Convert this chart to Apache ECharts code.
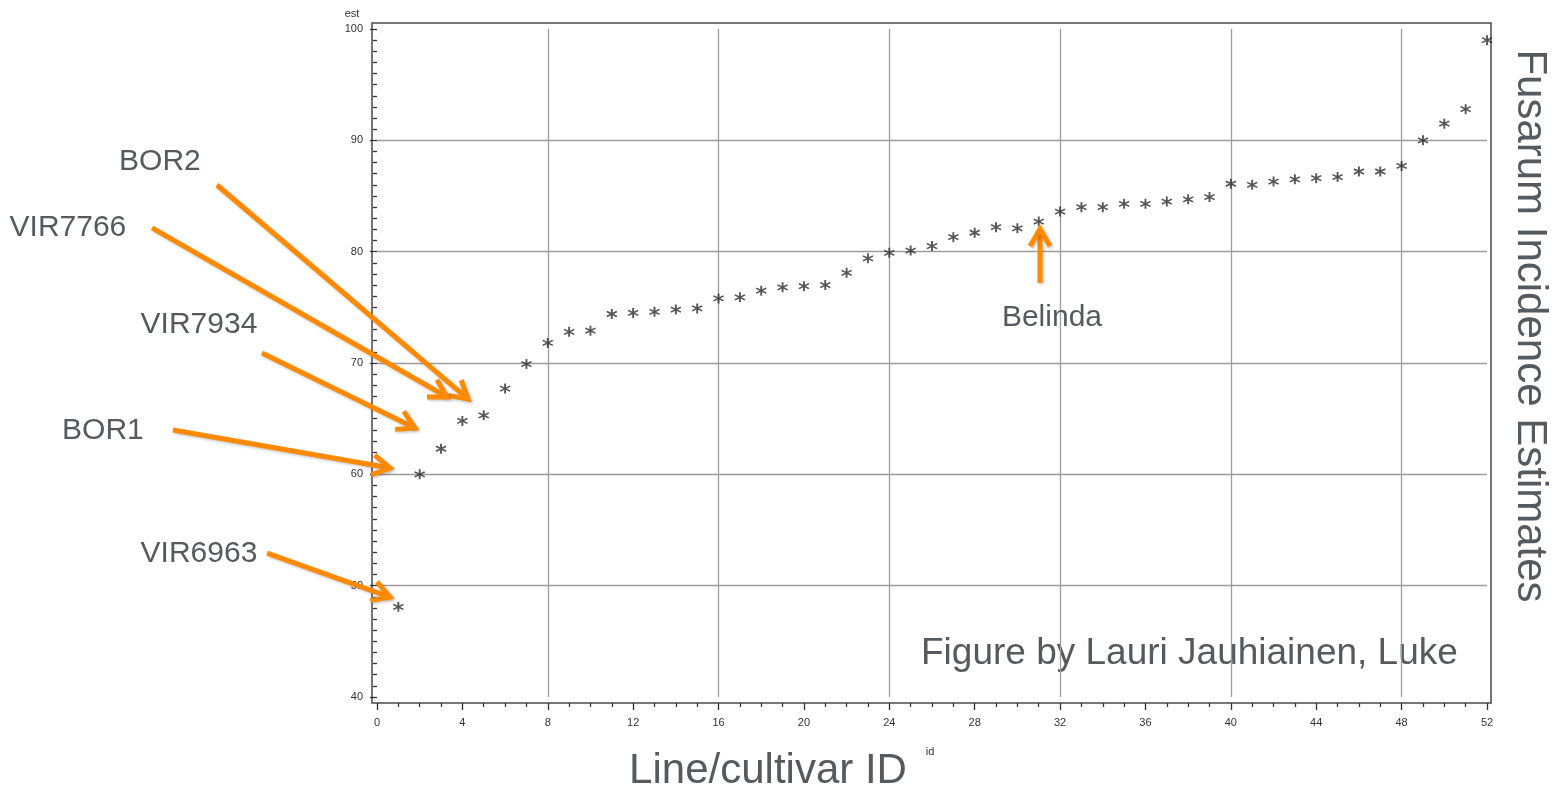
<!DOCTYPE html>
<html>
<head>
<meta charset="utf-8">
<title>Fusarum Incidence Estimates</title>
<script src="https://cdn.jsdelivr.net/npm/echarts@6.0.0/dist/echarts.min.js"></script>
<style>
  html, body { margin: 0; padding: 0; background: #fff; }
  #chart { width: 1552px; height: 791px; }
</style>
</head>
<body>
<div id="chart"></div>
<script>
// line/cultivar id and estimated incidence
const ids = [1, 2, 3, 4, 5, 6, 7, 8, 9, 10, 11, 12, 13, 14, 15, 16, 17, 18, 19, 20,
  21, 22, 23, 24, 25, 26, 27, 28, 29, 30, 31, 32, 33, 34, 35, 36, 37, 38, 39, 40,
  41, 42, 43, 44, 45, 46, 47, 48, 49, 50, 51, 52]
const est = [48.1, 60.0, 62.3, 64.8, 65.3, 67.7, 69.9, 71.8, 72.8, 72.9,
  74.4, 74.5, 74.6, 74.8, 74.9, 75.8, 75.9, 76.5, 76.8, 76.9,
  77.0, 78.1, 79.4, 79.9, 80.1, 80.5, 81.3, 81.7, 82.2, 82.1,
  82.7, 83.6, 84.0, 84.0, 84.3, 84.3, 84.5, 84.7, 84.9, 86.1,
  86.0, 86.3, 86.5, 86.6, 86.7, 87.2, 87.2, 87.7, 90.0, 91.5,
  92.8, 99.0]

// axis ranges / tick steps
const xRange = [0, 52]
const yRange = [40, 100]
const xLabelStep = 4
const xGridStep = 8
const yStep = 10

// annotations (data units): arrow start, arrow tip, label centre
const annotNames = ['BOR2', 'VIR7766', 'VIR7934', 'BOR1', 'VIR6963', 'Belinda']
const annotFrom = [[-7.50, 85.99], [-10.54, 82.13], [-5.39, 70.90], [-9.56, 63.98], [-5.15, 52.93], [31.06, 77.19]]
const annotTo = [[4.26, 66.77], [3.28, 66.95], [1.78, 64.16], [0.61, 60.57], [0.61, 48.98], [31.06, 82.04]]
const annotLabel = [[-10.17, 88.05], [-14.48, 82.13], [-8.34, 73.41], [-12.84, 63.89], [-8.34, 52.84], [31.62, 74.04]]

const FONT = '"Liberation Sans", Arial, Helvetica, sans-serif'
const orange = '#ff8a00'
const textGray = '#555a5e'

// asterisk marker
const starPath = 'path://M4.2 0H5.8V10H4.2Z M1.08 1.85L9.68 6.85L8.92 8.15L0.32 3.15Z M0.32 6.85L8.92 1.85L9.68 3.15L1.08 8.15Z'

function renderArrow(params, api) {
  const from = api.coord([api.value(0), api.value(1)])
  const to = api.coord([api.value(2), api.value(3)])
  const at = api.coord([api.value(4), api.value(5)])
  const ang = Math.atan2(to[1] - from[1], to[0] - from[0])
  const head = 20
  const spread = Math.PI / 6
  const a1 = [to[0] - head * Math.cos(ang - spread), to[1] - head * Math.sin(ang - spread)]
  const a2 = [to[0] - head * Math.cos(ang + spread), to[1] - head * Math.sin(ang + spread)]
  const lineStyle = {
    stroke: orange,
    lineWidth: 5,
    fill: null,
    shadowBlur: 3,
    shadowOffsetX: 1.5,
    shadowOffsetY: 1.5,
    shadowColor: 'rgba(0,0,0,0.22)'
  }
  return {
    type: 'group',
    children: [
      { type: 'line', shape: { x1: from[0], y1: from[1], x2: to[0], y2: to[1] }, style: lineStyle },
      { type: 'polyline', shape: { points: [a1, to, a2] }, style: lineStyle },
      {
        type: 'text',
        style: {
          text: annotNames[params.dataIndex],
          x: at[0],
          y: at[1],
          align: 'center',
          verticalAlign: 'middle',
          font: '30px ' + FONT,
          fill: textGray
        }
      }
    ]
  }
}

const myChart = echarts.init(document.getElementById('chart'), null, { renderer: 'canvas' })

const axisLabelStyle = { color: '#333', fontSize: 11, fontFamily: FONT }
const gridLine = { show: true, showMinLine: false, showMaxLine: false, lineStyle: { color: '#9c9c9c', width: 1.3 } }

const option = {
  animation: false,
  backgroundColor: '#fff',
  grid: [
    // data area
    { left: 377, top: 29, width: 1110, height: 668, outerBoundsMode: 'none' },
    // outer frame
    { left: 372, top: 23, width: 1119, height: 680, show: true, borderColor: '#4a4a4a', borderWidth: 1.5,
      backgroundColor: 'transparent', outerBoundsMode: 'none' }
  ],
  xAxis: [
    {
      gridIndex: 0,
      type: 'value',
      min: xRange[0],
      max: xRange[1],
      interval: xLabelStep,
      position: 'bottom',
      offset: 6,
      axisLine: { show: false },
      axisTick: { show: true, length: 7, lineStyle: { color: '#333', width: 1.3 } },
      minorTick: { show: true, splitNumber: 4, length: 4, lineStyle: { color: '#333', width: 1.3 } },
      axisLabel: Object.assign({ margin: 14 }, axisLabelStyle),
      splitLine: { show: false }
    },
    {
      gridIndex: 0,
      type: 'value',
      min: xRange[0],
      max: xRange[1],
      interval: xGridStep,
      position: 'top',
      axisLine: { show: false },
      axisTick: { show: false },
      axisLabel: { show: false },
      splitLine: gridLine
    },
    { gridIndex: 1, type: 'value', show: false, min: 0, max: 1 }
  ],
  yAxis: [
    {
      gridIndex: 0,
      type: 'value',
      min: yRange[0],
      max: yRange[1],
      interval: yStep,
      position: 'left',
      offset: 5,
      axisLine: { show: false },
      axisTick: { show: true, length: 7, lineStyle: { color: '#333', width: 1.3 } },
      minorTick: { show: true, splitNumber: 10, length: 4, lineStyle: { color: '#333', width: 1.3 } },
      axisLabel: Object.assign({ margin: 9 }, axisLabelStyle),
      splitLine: gridLine
    },
    { gridIndex: 1, type: 'value', show: false, min: 0, max: 1 }
  ],
  graphic: [
    { type: 'text', x: 352, y: 14, style: { text: 'est', align: 'center', verticalAlign: 'middle', font: '11px ' + FONT, fill: '#333' } },
    { type: 'text', x: 768, y: 771, style: { text: 'Line/cultivar ID', align: 'center', verticalAlign: 'middle', font: '42px ' + FONT, fill: textGray } },
    { type: 'text', x: 930, y: 752, style: { text: 'id', align: 'center', verticalAlign: 'middle', font: '11px ' + FONT, fill: '#333' } },
    { type: 'text', x: 921, y: 654, style: { text: 'Figure by Lauri Jauhiainen, Luke', align: 'left', verticalAlign: 'middle', font: '37px ' + FONT, fill: textGray } },
    { type: 'text', x: 1530, y: 326, rotation: -Math.PI / 2, style: { text: 'Fusarum Incidence Estimates', align: 'center', verticalAlign: 'middle', font: '42px ' + FONT, fill: textGray } }
  ],
  series: [
    {
      name: 'est',
      type: 'scatter',
      xAxisIndex: 0,
      yAxisIndex: 0,
      symbol: starPath,
      symbolSize: [11, 10],
      itemStyle: { color: '#2a2a2a' },
      silent: true,
      z: 3,
      data: ids.map((id, i) => [id, est[i]])
    },
    {
      name: 'annotations',
      type: 'custom',
      xAxisIndex: 0,
      yAxisIndex: 0,
      clip: false,
      silent: true,
      z: 5,
      renderItem: renderArrow,
      data: annotNames.map((n, i) => ({
        name: n,
        value: [annotFrom[i][0], annotFrom[i][1], annotTo[i][0], annotTo[i][1], annotLabel[i][0], annotLabel[i][1]]
      }))
    }
  ]
}

myChart.setOption(option)
</script>
</body>
</html>
